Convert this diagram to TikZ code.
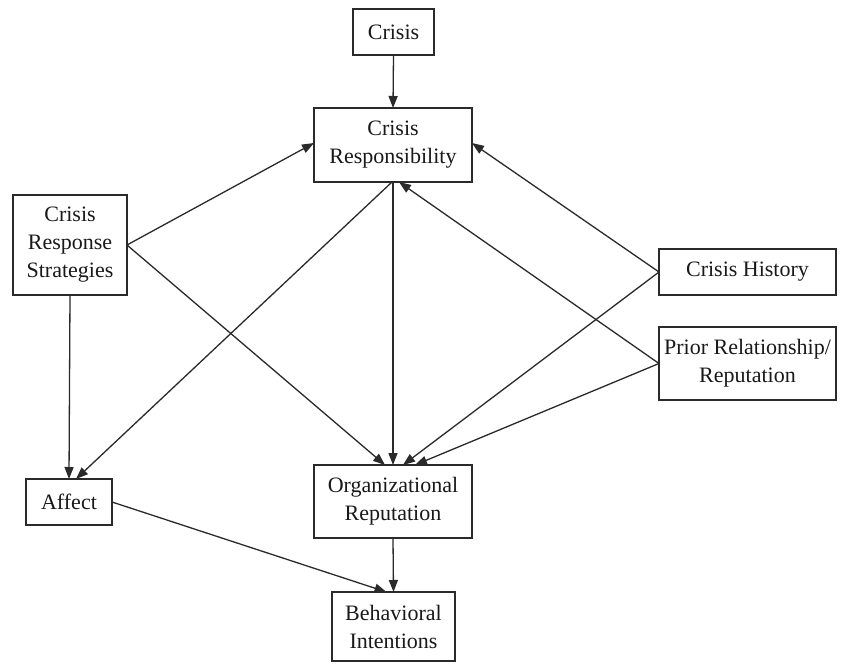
\documentclass[tikz,border=0pt]{standalone}
\usepackage{fontspec}
\setmainfont{Liberation Serif}
\usetikzlibrary{arrows.meta}
\definecolor{ink}{HTML}{2A2A2A}
\begin{document}
\begin{tikzpicture}[x=1pt,y=-1pt,
  box/.style={draw=ink, line width=1.3pt, rectangle, inner sep=0pt, outer sep=0pt,
    align=center, text=black!90, font=\fontsize{22}{28}\selectfont},
  conn/.style={draw=ink, line width=1.3pt, -{Triangle[length=12pt,width=9pt]}}]
\useasboundingbox[fill=white] (0,0) rectangle (847,664);
\node[box, minimum width=81pt, minimum height=46pt] (crisis) at (393.5,32) {Crisis};
\node[box, minimum width=158pt, minimum height=74pt] (resp) at (393,145) {Crisis\\Responsibility};
\node[box, minimum width=114pt, minimum height=100pt] (crs) at (70,245) {Crisis\\Response\\Strategies};
\node[box, minimum width=177pt, minimum height=46pt] (hist) at (747.5,272) {Crisis History};
\node[box, minimum width=177pt, minimum height=73pt] (prior) at (747.5,363.5) {Prior Relationship/\\Reputation};
\node[box, minimum width=86pt, minimum height=46pt] (affect) at (69,502) {Affect};
\node[box, minimum width=158pt, minimum height=73pt] (org) at (393,501.5) {Organizational\\Reputation};
\node[box, minimum width=123pt, minimum height=69pt] (bi) at (393.5,626.5) {Behavioral\\Intentions};

\draw[conn] (crisis.south) -- (resp.north);
\draw[conn] (crs.east) -- ([yshift=2pt]resp.west);
\draw[conn] (crs.east) -- ([xshift=-8pt]org.north);
\draw[conn] (crs.south) -- (affect.north);
\draw[conn] ([xshift=-1pt]resp.south) -- ([xshift=7pt]affect.north);
\draw[conn] (resp.south) -- (org.north);
\draw[conn] (hist.west) -- ([yshift=2pt]resp.east);
\draw[conn] (hist.west) -- ([xshift=10pt]org.north);
\draw[conn] (prior.west) -- ([xshift=6pt]resp.south);
\draw[conn] (prior.west) -- ([xshift=22pt]org.north);
\draw[conn] (affect.east) -- ([xshift=-7pt]bi.north);
\draw[conn] (org.south) -- (bi.north);
\end{tikzpicture}
\end{document}
